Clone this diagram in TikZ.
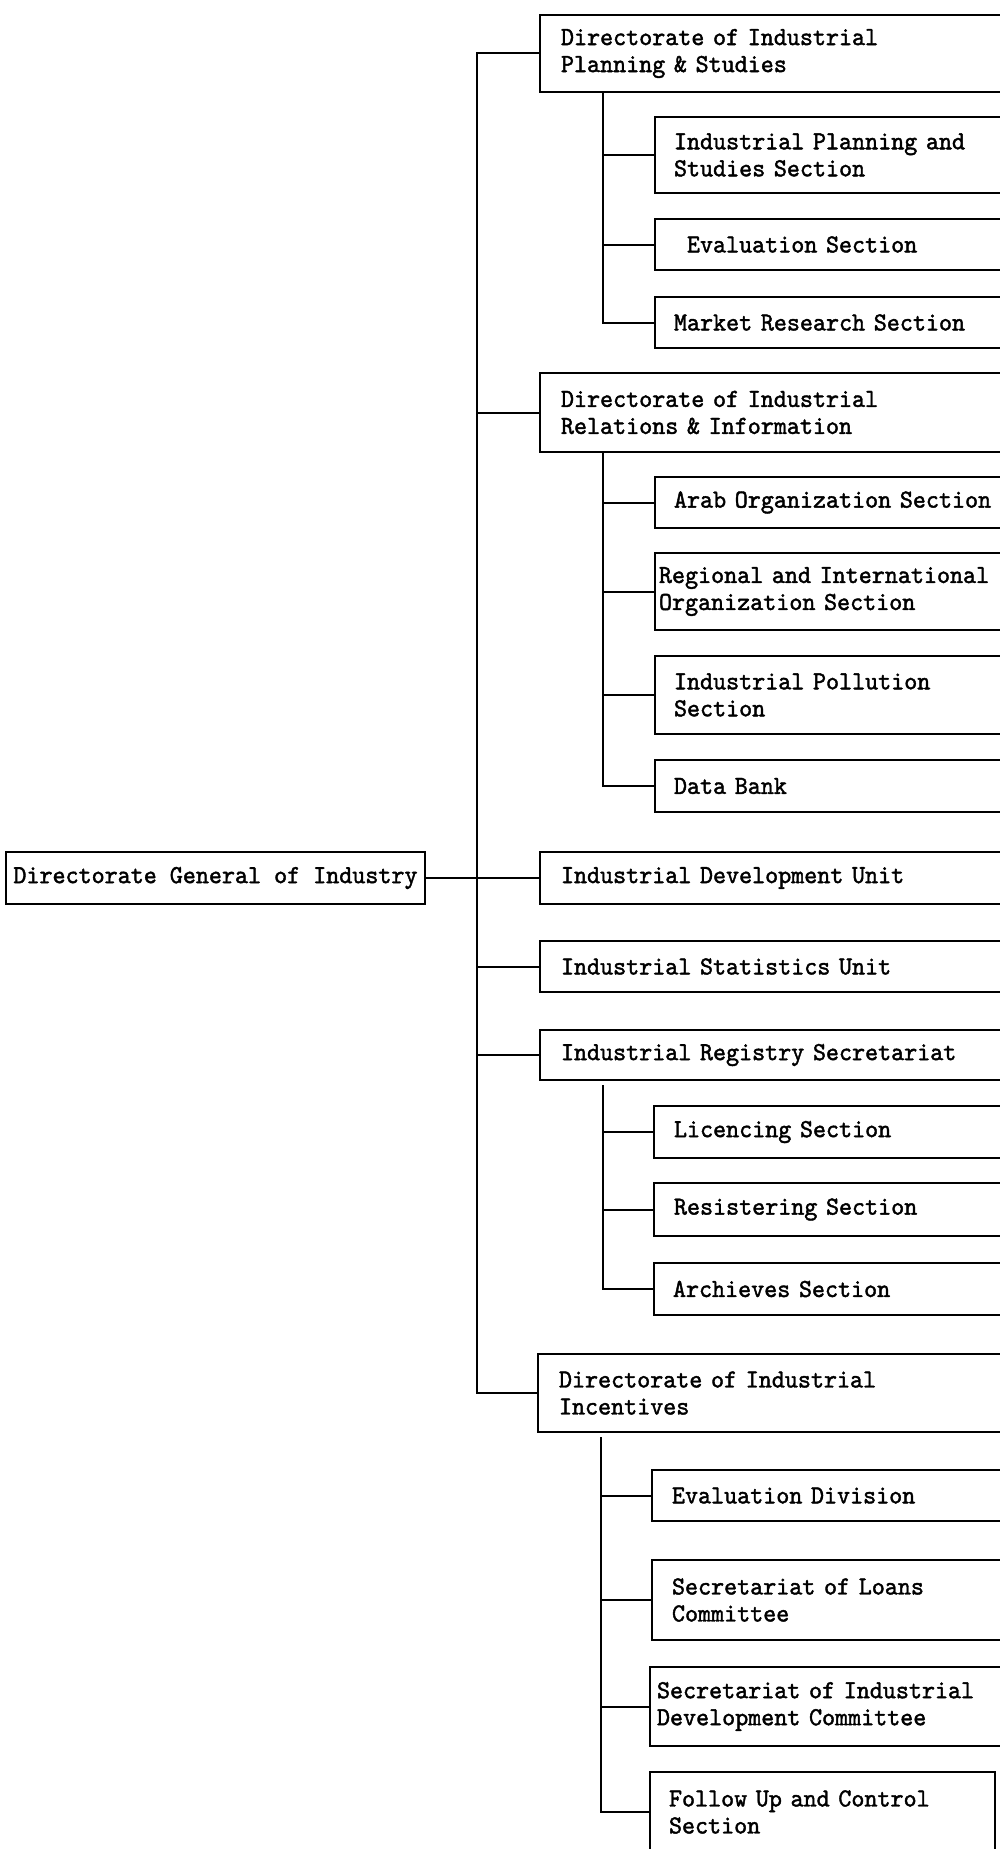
\documentclass[tikz,border=0pt]{standalone}
\usepackage{fontspec}
\newfontfamily\chartfont{lmmono10-regular.otf}[FakeStretch=0.955,FakeBold=1.6]
\begin{document}
\begin{tikzpicture}[x=1pt,y=-1pt,
  line width=2pt,
  unit/.style={draw, rectangle, anchor=north west, align=left,
    inner ysep=0pt, outer sep=0pt,
    font=\chartfont\fontsize{26}{27}\selectfont},
  wire/.style={line width=2pt}]

% page frame
\path[use as bounding box, fill=white] (0,0) rectangle (999,1849);

% head of the chart
\node[unit, minimum height=52pt, minimum width=419pt, inner xsep=0pt] (gen) at (6,852)
  {Directorate General of Industry};

% first level
\node[unit, minimum height=77pt, inner xsep=21pt, text width=458pt] (dplan) at (540,15)
  {Directorate of Industrial\\Planning \& Studies};
\node[unit, minimum height=79pt, inner xsep=21pt, text width=458pt] (drel) at (540,373)
  {Directorate of Industrial\\Relations \& Information};
\node[unit, minimum height=52pt, inner xsep=21pt, text width=458pt] (idev) at (540,852)
  {Industrial Development Unit};
\node[unit, minimum height=51pt, inner xsep=21pt, text width=458pt] (istat) at (540,941)
  {Industrial Statistics Unit};
\node[unit, minimum height=50pt, inner xsep=21pt, text width=458pt] (ireg) at (540,1030)
  {Industrial Registry Secretariat};
\node[unit, minimum height=78pt, inner xsep=21pt, text width=460pt] (dinc) at (538,1354)
  {Directorate of Industrial\\Incentives};

% sections under planning & studies
\node[unit, minimum height=76pt, inner xsep=19pt, text width=347pt] (ipss) at (655,117)
  {Industrial Planning and\\Studies Section};
\node[unit, minimum height=51pt, inner xsep=32pt, text width=321pt] (evs) at (655,219)
  {Evaluation Section};
\node[unit, minimum height=51pt, inner xsep=19pt, text width=347pt] (mkt) at (655,297)
  {Market Research Section};

% sections under relations & information
\node[unit, minimum height=51pt, inner xsep=19pt, text width=347pt] (arab) at (655,477)
  {Arab Organization Section};
\node[unit, minimum height=77pt, inner xsep=4pt, text width=377pt] (regi) at (655,553)
  {Regional and International\\Organization Section};
\node[unit, minimum height=78pt, inner xsep=19pt, text width=347pt] (poll) at (655,656)
  {Industrial Pollution\\Section};
\node[unit, minimum height=52pt, inner xsep=19pt, text width=347pt] (dbank) at (655,760)
  {Data Bank};

% sections under the registry
\node[unit, minimum height=52pt, inner xsep=20pt, text width=346pt] (lic) at (654,1106)
  {Licencing Section};
\node[unit, minimum height=53pt, inner xsep=20pt, text width=346pt] (res) at (654,1183)
  {Resistering Section};
\node[unit, minimum height=52pt, inner xsep=19pt, text width=348pt] (arc) at (654,1263)
  {Archieves Section};

% divisions under incentives
\node[unit, minimum height=51pt, inner xsep=20pt, text width=348pt] (evd) at (652,1470)
  {Evaluation Division};
\node[unit, minimum height=80pt, inner xsep=20pt, text width=348pt] (loans) at (652,1560)
  {Secretariat of Loans\\Committee};
\node[unit, minimum height=79pt, inner xsep=7pt, text width=376pt] (sidc) at (650,1667)
  {Secretariat of Industrial\\Development Committee};
\node[unit, minimum height=80pt, inner xsep=19pt, text width=307pt] (fup) at (650,1772)
  {Follow Up and Control\\Section};

% main trunk
\coordinate (trunk) at (477,0);
\draw[wire] (dplan.west) -- (dplan.west -| trunk) |- (dinc.west);
\draw[wire] (drel.west) -- (drel.west -| trunk);
\draw[wire] (gen.east) -- (gen.east -| idev.west);
\draw[wire] (istat.west) -- (istat.west -| trunk);
\draw[wire] (ireg.west) -- (ireg.west -| trunk);

% spine under planning & studies
\coordinate (spA) at ([xshift=63pt]dplan.south west);
\draw[wire] (spA) |- (mkt.west);
\draw[wire] (ipss.west) -- (ipss.west -| spA);
\draw[wire] (evs.west) -- (evs.west -| spA);

% spine under relations & information
\coordinate (spB) at ([xshift=63pt]drel.south west);
\draw[wire] (spB) |- (dbank.west);
\draw[wire] (arab.west) -- (arab.west -| spB);
\draw[wire] (regi.west) -- (regi.west -| spB);
\draw[wire] (poll.west) -- (poll.west -| spB);

% spine under the registry
\coordinate (spC) at ([xshift=63pt,yshift=-5pt]ireg.south west);
\draw[wire] (spC) |- (arc.west);
\draw[wire] (lic.west) -- (lic.west -| spC);
\draw[wire] (res.west) -- (res.west -| spC);

% spine under incentives
\coordinate (spD) at ([xshift=63pt,yshift=-5pt]dinc.south west);
\draw[wire] (spD) |- (fup.west);
\draw[wire] (evd.west) -- (evd.west -| spD);
\draw[wire] (loans.west) -- (loans.west -| spD);
\draw[wire] (sidc.west) -- (sidc.west -| spD);
\end{tikzpicture}
\end{document}
